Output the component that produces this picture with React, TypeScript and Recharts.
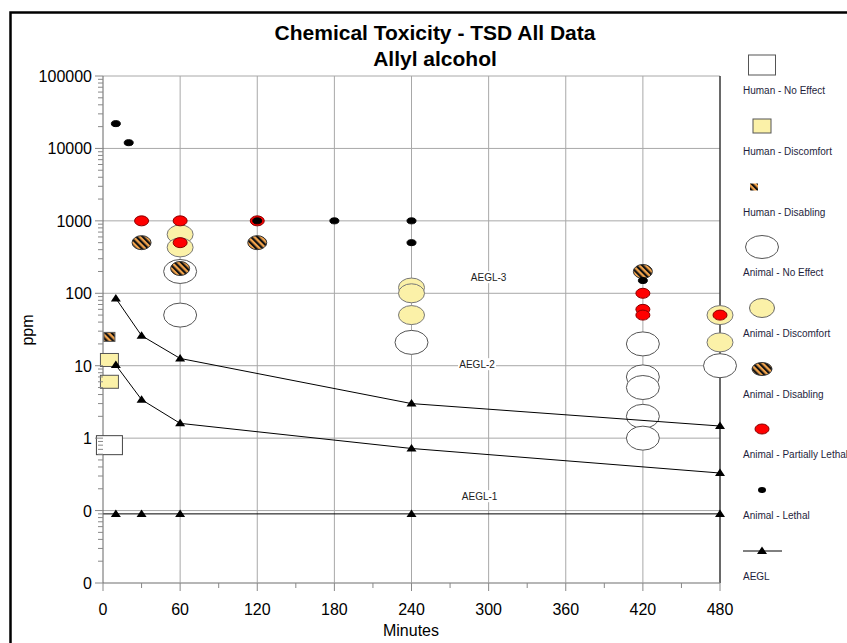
import { ScatterChart, Scatter, XAxis, YAxis, CartesianGrid, ReferenceLine, ReferenceDot } from 'recharts';

const FONT = "'Liberation Sans', Arial, sans-serif";

// AEGL levels (ppm) at exposure durations (minutes)
const aeglMinutes = [10, 30, 60, 240, 480];
const aegl1Ppm = [0.09, 0.09, 0.09, 0.09, 0.09];
const aegl2Ppm = [10.2, 3.4, 1.6, 0.72, 0.33];
const aegl3Ppm = [85, 26, 12.6, 3.0, 1.47];

// observations: minutes / ppm pairs per category
const humanNoEffectMin = [5];
const humanNoEffectPpm = [0.8];
const humanDiscomfortMin = [5, 5];
const humanDiscomfortPpm = [12, 6];
const humanDisablingMin = [5];
const humanDisablingPpm = [25];
const animalNoEffectMin = [60, 60, 240, 420, 420, 420, 420, 420, 480];
const animalNoEffectPpm = [200, 50, 21, 20, 7, 5, 2, 1, 10];
const animalDiscomfortMin = [60, 60, 240, 240, 240, 480, 480];
const animalDiscomfortPpm = [650, 430, 120, 100, 50, 50, 21];
const animalDisablingMin = [30, 60, 120, 420];
const animalDisablingPpm = [500, 220, 500, 200];
const animalPartLethalMin = [30, 60, 60, 120, 420, 420, 420, 480];
const animalPartLethalPpm = [1000, 1000, 500, 1000, 100, 60, 50, 50];
const animalLethalMin = [10, 20, 120, 180, 240, 240, 420];
const animalLethalPpm = [22000, 12000, 1000, 1000, 1000, 500, 150];

const xTicks = [0, 30, 60, 90, 120, 150, 180, 210, 240, 270, 300, 330, 360, 390, 420, 450, 480];
const xGrid = [60, 120, 180, 240, 300, 360, 420, 480];
const yDecades = [0.01, 0.1, 1, 10, 100, 1000, 10000, 100000];
const yTicks: number[] = [];
yDecades.forEach((d, i) => {
  yTicks.push(d);
  if (i < yDecades.length - 1) for (let m = 2; m <= 9; m++) yTicks.push(d * m);
});

const zip = (xs: number[], ys: number[]) => xs.map((x, i) => ({ x, y: ys[i] }));

const isDecade = (v: number) => Math.abs(Math.log10(v) - Math.round(Math.log10(v))) < 1e-9;

const YTick = (props: any) => {
  const { x, y, payload } = props;
  const major = isDecade(payload.value);
  return (
    <g>
      <line x1={x - (major ? 8 : 5)} x2={x} y1={y} y2={y} stroke="#888" />
      {major && (
        <text x={x - 11} y={y + 6} textAnchor="end" fontSize={16} fontFamily={FONT} fill="#000">
          {payload.value < 1 ? '0' : String(payload.value)}
        </text>
      )}
    </g>
  );
};

const XTick = (props: any) => {
  const { x, y, payload } = props;
  const major = payload.value % 60 === 0;
  return (
    <g>
      <line x1={x} x2={x} y1={y} y2={y + (major ? 8 : 5)} stroke="#888" />
      {major && (
        <text x={x} y={y + 32} textAnchor="middle" fontSize={16} fontFamily={FONT} fill="#000">
          {payload.value}
        </text>
      )}
    </g>
  );
};

// marker shapes
const rectShape = (w: number, h: number, fill: string, stroke: string) => (p: any) => (
  <rect x={p.cx - w / 2} y={p.cy - h / 2} width={w} height={h} fill={fill} stroke={stroke} strokeWidth={1} />
);
const ellipseShape = (rx: number, ry: number, fill: string, stroke: string) => (p: any) => (
  <ellipse cx={p.cx} cy={p.cy} rx={rx} ry={ry} fill={fill} stroke={stroke} strokeWidth={1} />
);
const triangle = (p: any) => (
  <polygon points={`${p.cx},${p.cy - 4.5} ${p.cx + 5},${p.cy + 3} ${p.cx - 5},${p.cy + 3}`} fill="#000" />
);

const aeglLabel = (text: string) => (p: any) => (
  <g>
    <rect x={p.cx - 19} y={p.cy - 6} width={38} height={12} fill="#fff" />
    <text x={p.cx} y={p.cy + 3.5} textAnchor="middle" fontSize={10} fontFamily={FONT} fill="#222">
      {text}
    </text>
  </g>
);

const YELLOW = '#fbf1a8';
const HATCH = 'url(#hatch)';

const legendItems = [
  { label: 'Human - No Effect', y: 65 },
  { label: 'Human - Discomfort', y: 126 },
  { label: 'Human - Disabling', y: 187 },
  { label: 'Animal - No Effect', y: 247 },
  { label: 'Animal - Discomfort', y: 308 },
  { label: 'Animal - Disabling', y: 369 },
  { label: 'Animal - Partially Lethal', y: 429 },
  { label: 'Animal - Lethal', y: 490 },
  { label: 'AEGL', y: 551 },
];

const legendSymbol = (i: number, cx: number, cy: number) => {
  switch (i) {
    case 0: return <rect x={cx - 13.5} y={cy - 10} width={27} height={20} fill="#fff" stroke="#555" />;
    case 1: return <rect x={cx - 9} y={cy - 7} width={18} height={14} fill={YELLOW} stroke="#555" />;
    case 2: return <rect x={cx - 8} y={cy - 3.5} width={8} height={7} fill={HATCH} />;
    case 3: return <ellipse cx={cx} cy={cy} rx={16.5} ry={11.5} fill="#fff" stroke="#555" />;
    case 4: return <ellipse cx={cx} cy={cy} rx={12.5} ry={9.5} fill={YELLOW} stroke="#666" />;
    case 5: return <ellipse cx={cx} cy={cy} rx={10} ry={6.5} fill={HATCH} stroke="#333" />;
    case 6: return <ellipse cx={cx} cy={cy} rx={7} ry={5} fill="#ff0000" stroke="#800" />;
    case 7: return <ellipse cx={cx} cy={cy} rx={4} ry={3} fill="#000" />;
    default:
      return (
        <g>
          <line x1={743} x2={782} y1={cy} y2={cy} stroke="#000" />
          <polygon points={`${cx},${cy - 4.5} ${cx + 5},${cy + 3} ${cx - 5},${cy + 3}`} fill="#000" />
        </g>
      );
  }
};

export default function App() {
  return (
    <div style={{ position: 'absolute', left: 0, top: 0, width: 847, height: 643, background: '#fff', overflow: 'hidden' }}>
      <svg width={0} height={0} style={{ position: 'absolute' }}>
        <defs>
          <pattern id="hatch" patternUnits="userSpaceOnUse" width={4.5} height={4.5} patternTransform="rotate(-45)">
            <rect width={4.5} height={4.5} fill="#f3a44c" />
            <rect width={2.2} height={4.5} fill="#111" />
          </pattern>
        </defs>
      </svg>
      <div style={{ position: 'absolute', left: 0, top: 0 }}>
        <ScatterChart width={847} height={643} margin={{ top: 76, right: 127, bottom: 30, left: 43 }}>
          <CartesianGrid stroke="#a8a8a8" horizontalValues={yDecades} verticalValues={xGrid} />
          <CartesianGrid stroke="#000" horizontal={false} verticalValues={[480]} />
          <XAxis
            type="number"
            dataKey="x"
            domain={[0, 480]}
            ticks={xTicks}
            interval={0}
            tickSize={0}
            tickMargin={0}
            tickLine={false}
            height={30}
            axisLine={{ stroke: '#999' }}
            tick={(p: any) => <XTick {...p} />}
          />
          <YAxis
            type="number"
            dataKey="y"
            scale="log"
            domain={[0.01, 100000]}
            allowDataOverflow
            ticks={yTicks}
            interval={0}
            tickSize={0}
            tickMargin={0}
            tickLine={false}
            width={60}
            axisLine={{ stroke: '#666' }}
            tick={(p: any) => <YTick {...p} />}
          />

          <Scatter name="Human - No Effect" data={zip(humanNoEffectMin, humanNoEffectPpm)} shape={rectShape(26, 19, '#fff', '#444')} isAnimationActive={false} />
          <Scatter name="Human - Discomfort" data={zip(humanDiscomfortMin, humanDiscomfortPpm)} shape={rectShape(18, 13, YELLOW, '#555')} isAnimationActive={false} />
          <Scatter name="Human - Disabling" data={zip(humanDisablingMin, humanDisablingPpm)} shape={rectShape(11, 9, HATCH, '#555')} isAnimationActive={false} />
          <Scatter name="Animal - No Effect" data={zip(animalNoEffectMin, animalNoEffectPpm)} shape={ellipseShape(16.5, 12, '#fff', '#555')} isAnimationActive={false} />
          <Scatter name="Animal - Discomfort" data={zip(animalDiscomfortMin, animalDiscomfortPpm)} shape={ellipseShape(13, 9.5, YELLOW, '#777')} isAnimationActive={false} />
          <Scatter name="Animal - Disabling" data={zip(animalDisablingMin, animalDisablingPpm)} shape={ellipseShape(9.5, 7, HATCH, '#333')} isAnimationActive={false} />
          <Scatter name="Animal - Partially Lethal" data={zip(animalPartLethalMin, animalPartLethalPpm)} shape={ellipseShape(7, 5, '#ff0000', '#800')} isAnimationActive={false} />
          <Scatter name="Animal - Lethal" data={zip(animalLethalMin, animalLethalPpm)} shape={ellipseShape(4.5, 3, '#000', '#000')} isAnimationActive={false} />

          <ReferenceLine
            segment={[{ x: 0, y: aegl1Ppm[0] }, { x: aeglMinutes[0], y: aegl1Ppm[0] }]}
            stroke="#000"
          />
          <Scatter name="AEGL-1" data={zip(aeglMinutes, aegl1Ppm)} line={{ stroke: '#000', strokeWidth: 1 }} shape={triangle} isAnimationActive={false} />
          <Scatter name="AEGL-2" data={zip(aeglMinutes, aegl2Ppm)} line={{ stroke: '#000', strokeWidth: 1 }} shape={triangle} isAnimationActive={false} />
          <Scatter name="AEGL-3" data={zip(aeglMinutes, aegl3Ppm)} line={{ stroke: '#000', strokeWidth: 1 }} shape={triangle} isAnimationActive={false} />

          <ReferenceDot x={300} y={167} shape={aeglLabel('AEGL-3')} />
          <ReferenceDot x={291} y={10.5} shape={aeglLabel('AEGL-2')} />
          <ReferenceDot x={293} y={0.158} shape={aeglLabel('AEGL-1')} />
        </ScatterChart>
      </div>

      <svg width={847} height={643} style={{ position: 'absolute', left: 0, top: 0, pointerEvents: 'none' }}>
        <rect x={10.5} y={12.5} width={850} height={650} fill="none" stroke="#000" strokeWidth={2.5} />
        <text x={435} y={40} textAnchor="middle" fontSize={21} fontWeight="bold" fontFamily={FONT}>
          Chemical Toxicity - TSD All Data
        </text>
        <text x={435} y={66} textAnchor="middle" fontSize={21} fontWeight="bold" fontFamily={FONT}>
          Allyl alcohol
        </text>
        <text x={411} y={636} textAnchor="middle" fontSize={16} fontFamily={FONT}>
          Minutes
        </text>
        <text x={33} y={330} textAnchor="middle" fontSize={16} fontFamily={FONT} transform="rotate(-90 33 330)">
          ppm
        </text>
        {legendItems.map((item, i) => (
          <g key={item.label}>
            {legendSymbol(i, i === 2 ? 758 : 762, item.y)}
            <text x={743} y={item.y + 28.5} fontSize={10} fontFamily={FONT} fill="#1e1e3c">
              {item.label}
            </text>
          </g>
        ))}
      </svg>
    </div>
  );
}
